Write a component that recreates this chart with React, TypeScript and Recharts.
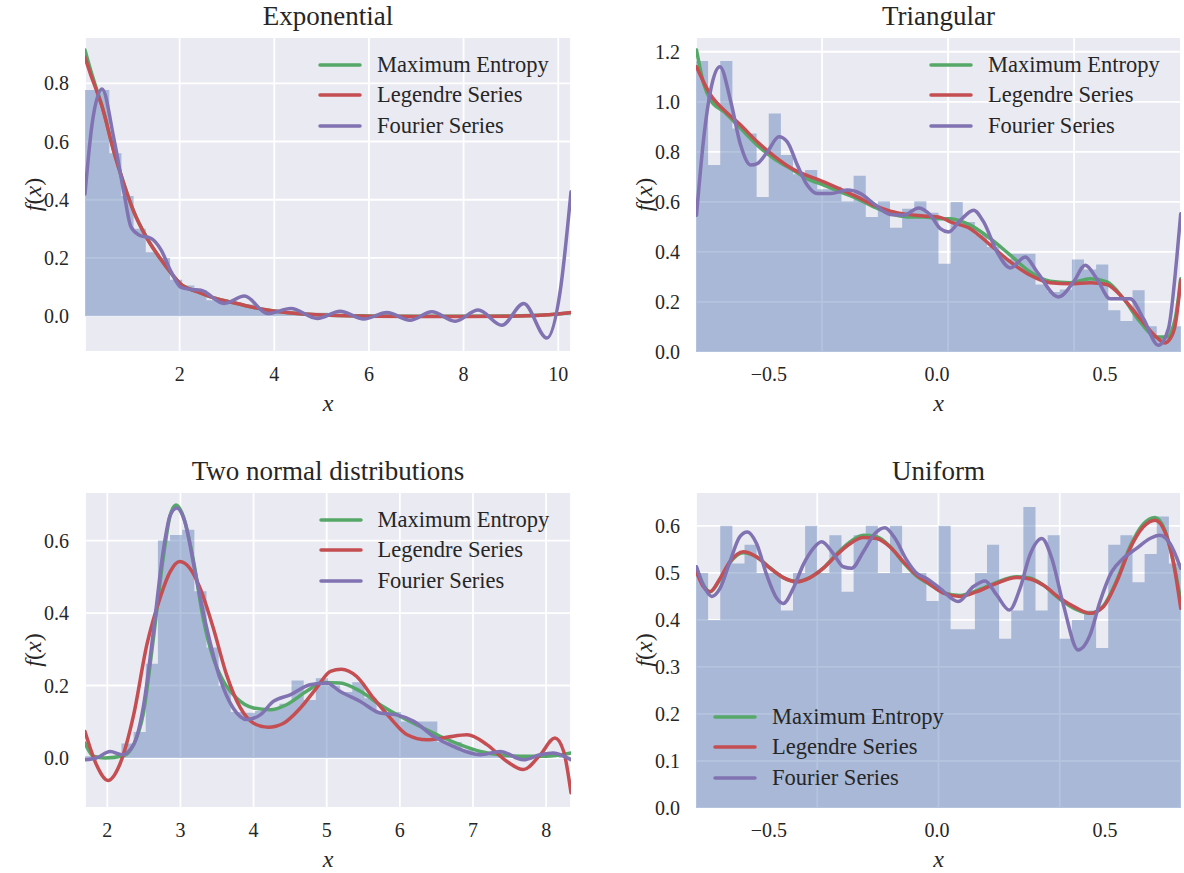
import {
  Area,
  CartesianGrid,
  ComposedChart,
  Legend,
  Line,
  XAxis,
  YAxis,
} from "recharts";

const FONT = '"Liberation Serif", "Times New Roman", serif';
const INK = "#262626";
const BLUE = "#4c72b0";
const GREEN = "#55a868";
const RED = "#c44e52";
const PURPLE = "#8172b2";

const Y_AXIS_W = 80;
const X_AXIS_H = 64;

const SERIES_ORDER = ["Maximum Entropy", "Legendre Series", "Fourier Series"];

// Exponential: 40 bins from 0
const expBinStart = 0;
const expBinWidth = 0.25675;
const expDensity = [
  0.777, 0.777, 0.56, 0.413, 0.3, 0.22, 0.2, 0.125, 0.105, 0.09,
  0.055, 0.055, 0.045, 0.04, 0.026, 0.022, 0.018, 0.015, 0.01, 0.012,
  0.006, 0.004, 0.006, 0.002, 0.004, 0.002, 0, 0.002, 0, 0.001,
  0, 0, 0.001, 0, 0, 0, 0, 0, 0, 0.002,
];
const expSmoothX = [0, 0.12, 0.24, 0.36, 0.61, 0.82, 1.03, 1.31, 1.59, 1.8, 2.01, 2.37, 2.72, 3.07, 3.42, 3.85, 4.48, 5.18, 6.0, 7.0, 8.0, 9.0, 9.7, 10.27];
const expMaxEnt = [0.914, 0.845, 0.782, 0.722, 0.566, 0.456, 0.36, 0.268, 0.198, 0.152, 0.112, 0.084, 0.063, 0.049, 0.035, 0.021, 0.009, 0.003, 0.001, 0, 0, 0.001, 0.004, 0.012];
const expLegendre = [0.889, 0.83, 0.777, 0.72, 0.565, 0.455, 0.359, 0.267, 0.198, 0.152, 0.112, 0.084, 0.063, 0.049, 0.035, 0.021, 0.009, 0.003, 0, -0.001, -0.001, 0, 0.004, 0.013];
const expFourierX = [0, 0.15, 0.36, 0.61, 0.82, 0.97, 1.15, 1.4, 1.61, 1.82, 2.03, 2.24, 2.45, 2.94, 3.37, 3.86, 4.35, 4.91, 5.39, 5.89, 6.38, 6.87, 7.33, 7.82, 8.31, 8.81, 9.27, 9.76, 10.04, 10.27];
const expFourier = [0.42, 0.66, 0.78, 0.61, 0.427, 0.307, 0.278, 0.267, 0.227, 0.152, 0.099, 0.092, 0.089, 0.044, 0.069, 0.009, 0.026, -0.008, 0.017, -0.01, 0.013, -0.014, 0.015, -0.017, 0.021, -0.031, 0.044, -0.075, 0.084, 0.427];

// Triangular: 40 bins from -1
const triBinStart = -1;
const triBinWidth = 0.0481;
const triDensity = [
  1.163, 0.747, 1.163, 0.893, 0.873, 0.62, 0.953, 0.787, 0.71, 0.727,
  0.65, 0.66, 0.603, 0.704, 0.54, 0.603, 0.497, 0.573, 0.603, 0.557,
  0.353, 0.6, 0.52, 0.47, 0.42, 0.373, 0.393, 0.393, 0.27, 0.24,
  0.25, 0.37, 0.33, 0.35, 0.167, 0.124, 0.247, 0.103, 0.06, 0.103,
];
const triMaxEntX = [-0.998, -0.968, -0.942, -0.889, -0.823, -0.757, -0.691, -0.625, -0.559, -0.493, -0.427, -0.361, -0.295, -0.229, -0.162, -0.097, -0.031, 0.009, 0.088, 0.168, 0.247, 0.326, 0.405, 0.484, 0.564, 0.63, 0.696, 0.762, 0.828, 0.868, 0.901, 0.923];
const triMaxEnt = [1.207, 1.067, 1.007, 0.96, 0.894, 0.827, 0.773, 0.733, 0.693, 0.667, 0.64, 0.613, 0.58, 0.553, 0.54, 0.54, 0.533, 0.533, 0.507, 0.453, 0.387, 0.32, 0.283, 0.277, 0.293, 0.28, 0.213, 0.12, 0.06, 0.06, 0.133, 0.293];
const triLegendreX = [-0.998, -0.942, -0.889, -0.823, -0.757, -0.691, -0.625, -0.493, -0.361, -0.295, -0.229, -0.162, -0.097, -0.031, 0.009, 0.088, 0.168, 0.247, 0.326, 0.405, 0.484, 0.564, 0.63, 0.696, 0.762, 0.828, 0.858, 0.882, 0.901, 0.923];
const triLegendre = [1.14, 1.027, 0.967, 0.907, 0.84, 0.784, 0.736, 0.68, 0.62, 0.587, 0.563, 0.55, 0.544, 0.538, 0.52, 0.493, 0.427, 0.36, 0.307, 0.277, 0.273, 0.277, 0.27, 0.213, 0.133, 0.058, 0.036, 0.055, 0.107, 0.287];
const triFourierX = [-0.998, -0.968, -0.905, -0.862, -0.823, -0.783, -0.757, -0.717, -0.671, -0.638, -0.598, -0.559, -0.519, -0.466, -0.4, -0.347, -0.295, -0.229, -0.176, -0.116, -0.07, -0.031, 0.002, 0.049, 0.101, 0.141, 0.194, 0.247, 0.306, 0.353, 0.438, 0.498, 0.544, 0.59, 0.643, 0.722, 0.775, 0.834, 0.874, 0.907, 0.923];
const triFourier = [0.547, 0.867, 1.14, 1.0, 0.827, 0.747, 0.753, 0.8, 0.86, 0.84, 0.747, 0.667, 0.633, 0.633, 0.647, 0.633, 0.593, 0.55, 0.547, 0.576, 0.547, 0.493, 0.48, 0.527, 0.567, 0.52, 0.4, 0.336, 0.38, 0.32, 0.22, 0.28, 0.347, 0.293, 0.213, 0.213, 0.133, 0.027, 0.093, 0.373, 0.553];

// Two normal distributions: 40 bins from 1.695
const tnBinStart = 1.695;
const tnBinWidth = 0.16612;
const tnDensity = [
  0.005, 0, 0.005, 0.04, 0.072, 0.26, 0.6, 0.615, 0.63, 0.46,
  0.305, 0.2, 0.127, 0.125, 0.13, 0.135, 0.15, 0.214, 0.16, 0.22,
  0.2, 0.182, 0.209, 0.165, 0.127, 0.127, 0.101, 0.101, 0.101, 0.044,
  0.044, 0.023, 0.015, 0.012, 0.01, 0.005, 0.005, 0.003, 0, 0.003,
];
const tnMaxEntX = [1.695, 1.81, 1.97, 2.22, 2.36, 2.49, 2.63, 2.77, 2.86, 2.94, 3.04, 3.18, 3.31, 3.45, 3.59, 3.77, 4.0, 4.23, 4.45, 4.73, 4.95, 5.18, 5.46, 5.73, 6.0, 6.28, 6.55, 6.82, 7.1, 7.37, 7.64, 8.0, 8.34];
const tnMaxEnt = [0.041, 0.005, 0, 0.006, 0.037, 0.12, 0.33, 0.56, 0.67, 0.698, 0.666, 0.542, 0.386, 0.275, 0.211, 0.165, 0.138, 0.133, 0.147, 0.185, 0.208, 0.207, 0.184, 0.147, 0.115, 0.087, 0.06, 0.037, 0.018, 0.009, 0.005, 0.005, 0.014];
const tnLegendreX = [1.695, 1.85, 2.01, 2.17, 2.36, 2.54, 2.72, 2.86, 2.99, 3.13, 3.27, 3.45, 3.63, 3.82, 4.0, 4.2, 4.41, 4.64, 4.86, 5.05, 5.2, 5.41, 5.64, 5.87, 6.1, 6.37, 6.64, 6.92, 7.19, 7.46, 7.69, 7.92, 8.12, 8.24, 8.34];
const tnLegendre = [0.073, -0.018, -0.062, -0.018, 0.119, 0.312, 0.441, 0.514, 0.542, 0.523, 0.468, 0.358, 0.23, 0.138, 0.096, 0.085, 0.096, 0.138, 0.193, 0.239, 0.245, 0.225, 0.165, 0.11, 0.064, 0.05, 0.057, 0.064, 0.037, -0.009, -0.032, 0.009, 0.055, 0.018, -0.096];
const tnFourierX = [1.695, 1.85, 2.04, 2.2, 2.36, 2.49, 2.63, 2.77, 2.86, 2.95, 3.06, 3.2, 3.36, 3.54, 3.72, 3.91, 4.09, 4.27, 4.5, 4.77, 5.0, 5.18, 5.46, 5.73, 5.96, 6.19, 6.46, 6.73, 7.1, 7.37, 7.69, 7.92, 8.1, 8.34];
const tnFourier = [-0.005, 0, 0.018, 0.009, 0.037, 0.138, 0.349, 0.579, 0.67, 0.69, 0.652, 0.514, 0.358, 0.22, 0.138, 0.106, 0.119, 0.156, 0.174, 0.202, 0.207, 0.184, 0.156, 0.124, 0.119, 0.101, 0.06, 0.032, 0.009, 0.018, -0.005, 0.009, 0.014, -0.005];

// Uniform: 40 bins from -1
const uniBinStart = -1;
const uniBinWidth = 0.05;
const uniDensity = [
  0.5, 0.4, 0.6, 0.52, 0.56, 0.5, 0.5, 0.42, 0.5, 0.6,
  0.5, 0.58, 0.46, 0.58, 0.6, 0.5, 0.6, 0.5, 0.5, 0.44,
  0.6, 0.38, 0.38, 0.5, 0.56, 0.36, 0.42, 0.64, 0.42, 0.58,
  0.36, 0.4, 0.42, 0.34, 0.56, 0.58, 0.48, 0.54, 0.62, 0.52,
];
const uniSmoothX = [-0.998, -0.97, -0.942, -0.901, -0.86, -0.805, -0.75, -0.695, -0.64, -0.585, -0.53, -0.475, -0.42, -0.365, -0.31, -0.255, -0.2, -0.145, -0.09, -0.035, 0.02, 0.089, 0.158, 0.24, 0.322, 0.377, 0.432, 0.501, 0.57, 0.625, 0.68, 0.735, 0.79, 0.845, 0.893, 0.934, 0.968, 0.999];
const uniMaxEnt = [0.51, 0.475, 0.46, 0.486, 0.522, 0.543, 0.534, 0.511, 0.49, 0.482, 0.49, 0.51, 0.54, 0.566, 0.58, 0.577, 0.556, 0.522, 0.493, 0.475, 0.458, 0.452, 0.462, 0.48, 0.492, 0.489, 0.474, 0.444, 0.422, 0.414, 0.43, 0.484, 0.556, 0.604, 0.618, 0.59, 0.525, 0.44];
const uniLegendre = [0.502, 0.471, 0.46, 0.488, 0.524, 0.545, 0.534, 0.51, 0.49, 0.481, 0.49, 0.51, 0.538, 0.562, 0.575, 0.573, 0.555, 0.524, 0.495, 0.476, 0.457, 0.45, 0.46, 0.478, 0.49, 0.487, 0.474, 0.446, 0.425, 0.414, 0.428, 0.481, 0.552, 0.598, 0.612, 0.587, 0.524, 0.425];
const uniFourierX = [-0.998, -0.97, -0.935, -0.901, -0.86, -0.819, -0.788, -0.75, -0.708, -0.667, -0.64, -0.599, -0.558, -0.516, -0.482, -0.434, -0.393, -0.358, -0.31, -0.262, -0.221, -0.179, -0.131, -0.09, -0.049, 0.006, 0.082, 0.144, 0.192, 0.24, 0.292, 0.336, 0.377, 0.426, 0.467, 0.515, 0.576, 0.625, 0.666, 0.714, 0.762, 0.817, 0.872, 0.913, 0.955, 0.999];
const uniFourier = [0.513, 0.474, 0.45, 0.467, 0.524, 0.577, 0.587, 0.562, 0.495, 0.446, 0.435, 0.467, 0.517, 0.552, 0.566, 0.541, 0.513, 0.51, 0.545, 0.584, 0.596, 0.573, 0.527, 0.499, 0.488, 0.467, 0.439, 0.471, 0.483, 0.453, 0.421, 0.467, 0.538, 0.573, 0.531, 0.432, 0.336, 0.368, 0.439, 0.502, 0.531, 0.552, 0.573, 0.58, 0.562, 0.51];

type Pt = { x: number; y: number };

const pts = (xs: number[], ys: number[]): Pt[] => xs.map((x, i) => ({ x, y: ys[i] }));

// step outline of a density histogram: one point per bin edge
const histogram = (start: number, width: number, heights: number[]): Pt[] => [
  ...heights.map((h, i) => ({ x: start + i * width, y: h })),
  { x: start + heights.length * width, y: heights[heights.length - 1] },
];

const signed = (v: number) => (v < 0 ? "\u2212" : "") + Math.abs(v).toFixed(1);

type PanelSpec = {
  title: string;
  left: number;
  top: number;
  plotW: number;
  plotH: number;
  xDomain: [number, number];
  xTicks: number[];
  labelDomain?: [number, number];
  labelTicks?: number[];
  yDomain: [number, number];
  yTicks: number[];
  hist: Pt[];
  maxEnt: Pt[];
  legendre: Pt[];
  fourier: Pt[];
  legendAt: { left: number; top: number };
};

const panels: PanelSpec[] = [
  {
    title: "Exponential",
    left: 5,
    top: 37,
    plotW: 486,
    plotH: 315,
    xDomain: [0, 10.27],
    xTicks: [2, 4, 6, 8, 10],
    yDomain: [-0.123, 0.959],
    yTicks: [0, 0.2, 0.4, 0.6, 0.8],
    hist: histogram(expBinStart, expBinWidth, expDensity),
    maxEnt: pts(expSmoothX, expMaxEnt),
    legendre: pts(expSmoothX, expLegendre),
    fourier: pts(expFourierX, expFourier),
    legendAt: { left: 313, top: 12.5 },
  },
  {
    title: "Triangular",
    left: 616,
    top: 37,
    plotW: 485,
    plotH: 315,
    xDomain: [-1, 0.924],
    xTicks: [-0.5, 0, 0.5],
    labelDomain: [-0.717, 0.726],
    labelTicks: [-0.5, 0, 0.5],
    yDomain: [0, 1.259],
    yTicks: [0, 0.2, 0.4, 0.6, 0.8, 1.0, 1.2],
    hist: histogram(triBinStart, triBinWidth, triDensity),
    maxEnt: pts(triMaxEntX, triMaxEnt),
    legendre: pts(triLegendreX, triLegendre),
    fourier: pts(triFourierX, triFourier),
    legendAt: { left: 313, top: 12.5 },
  },
  {
    title: "Two normal distributions",
    left: 5,
    top: 492,
    plotW: 486,
    plotH: 316,
    xDomain: [1.695, 8.34],
    xTicks: [2, 3, 4, 5, 6, 7, 8],
    yDomain: [-0.138, 0.734],
    yTicks: [0, 0.2, 0.4, 0.6],
    hist: histogram(tnBinStart, tnBinWidth, tnDensity),
    maxEnt: pts(tnMaxEntX, tnMaxEnt),
    legendre: pts(tnLegendreX, tnLegendre),
    fourier: pts(tnFourierX, tnFourier),
    legendAt: { left: 313.5, top: 12.5 },
  },
  {
    title: "Uniform",
    left: 616,
    top: 492,
    plotW: 485,
    plotH: 316,
    xDomain: [-1, 1],
    xTicks: [-0.5, 0, 0.5],
    labelDomain: [-0.717, 0.726],
    labelTicks: [-0.5, 0, 0.5],
    yDomain: [0, 0.672],
    yTicks: [0, 0.1, 0.2, 0.3, 0.4, 0.5, 0.6],
    hist: histogram(uniBinStart, uniBinWidth, uniDensity),
    maxEnt: pts(uniSmoothX, uniMaxEnt),
    legendre: pts(uniSmoothX, uniLegendre),
    fourier: pts(uniFourierX, uniFourier),
    legendAt: { left: 97, top: 209.5 },
  },
];

const tickStyle = { fill: INK, fontSize: 20, fontFamily: FONT };

function XLabel({ viewBox }: any) {
  const { x, y, width } = viewBox;
  return (
    <text
      x={x + width / 2}
      y={y + 51}
      textAnchor="middle"
      dominantBaseline="central"
      fontFamily={FONT}
      fontSize={24}
      fontStyle="italic"
      fill={INK}
    >
      x
    </text>
  );
}

function YLabel({ viewBox }: any) {
  const cx = viewBox.x + viewBox.width - 52;
  const cy = viewBox.y + viewBox.height / 2;
  return (
    <text
      transform={`rotate(-90 ${cx} ${cy})`}
      x={cx}
      y={cy}
      textAnchor="middle"
      dominantBaseline="central"
      fontFamily={FONT}
      fontSize={24}
      fill={INK}
    >
      <tspan fontStyle="italic">f</tspan>(<tspan fontStyle="italic">x</tspan>)
    </text>
  );
}

function LegendBox({ payload }: any) {
  const rows = (payload || [])
    .filter((entry: any) => SERIES_ORDER.includes(entry.value))
    .sort((a: any, b: any) => SERIES_ORDER.indexOf(a.value) - SERIES_ORDER.indexOf(b.value));
  return (
    <div style={{ fontFamily: FONT, fontSize: 22.5, color: INK }}>
      {rows.map((entry: any) => (
        <div
          key={entry.value}
          style={{ display: "flex", alignItems: "center", height: 30.5, whiteSpace: "nowrap" }}
        >
          <svg width={44} height={6} style={{ display: "block" }}>
            <line x1={2} y1={3} x2={42} y2={3} stroke={entry.color} strokeWidth={3.5} strokeLinecap="round" />
          </svg>
          <span style={{ marginLeft: 15 }}>{entry.value}</span>
        </div>
      ))}
    </div>
  );
}

function Panel({ p }: { p: PanelSpec }) {
  const width = Y_AXIS_W + p.plotW + 3;
  const height = p.plotH + X_AXIS_H;
  const split = !!p.labelDomain;
  const lineProps = {
    xAxisId: "data",
    dataKey: "y",
    type: "monotone" as const,
    strokeWidth: 3.5,
    strokeLinecap: "round" as const,
    dot: false,
    activeDot: false,
    isAnimationActive: false,
  };

  return (
    <div style={{ position: "absolute", left: p.left, top: p.top, width, height }}>
      <div
        style={{
          position: "absolute",
          left: Y_AXIS_W,
          width: p.plotW,
          top: -35,
          height: 28,
          lineHeight: "28px",
          textAlign: "center",
          fontFamily: FONT,
          fontSize: 27,
          color: INK,
          whiteSpace: "nowrap",
        }}
      >
        {p.title}
      </div>
      <ComposedChart width={width} height={height} margin={{ top: 0, right: 3, bottom: 0, left: 0 }}>
        <CartesianGrid xAxisId="data" fill="#eaeaf2" stroke="#ffffff" strokeWidth={1.8} />
        {split && (
          <XAxis
            xAxisId="label"
            type="number"
            dataKey="x"
            domain={p.labelDomain}
            ticks={p.labelTicks}
            allowDataOverflow
            height={X_AXIS_H}
            tickFormatter={signed}
            tick={tickStyle}
            tickSize={0}
            tickMargin={15}
            axisLine={false}
            tickLine={false}
            label={{ content: XLabel }}
          />
        )}
        <XAxis
          xAxisId="data"
          type="number"
          dataKey="x"
          orientation={split ? "top" : "bottom"}
          domain={p.xDomain}
          ticks={p.xTicks}
          allowDataOverflow
          hide={split}
          height={split ? 0 : X_AXIS_H}
          tickFormatter={(v: number) => String(v)}
          tick={tickStyle}
          tickSize={0}
          tickMargin={15}
          axisLine={false}
          tickLine={false}
          label={split ? undefined : { content: XLabel }}
        />
        <YAxis
          type="number"
          domain={p.yDomain}
          ticks={p.yTicks}
          allowDataOverflow
          width={Y_AXIS_W}
          tickFormatter={(v: number) => v.toFixed(1)}
          tick={tickStyle}
          tickSize={0}
          tickMargin={16}
          axisLine={false}
          tickLine={false}
          label={{ content: YLabel }}
        />
        <Area
          data={p.hist}
          xAxisId="data"
          dataKey="y"
          type="stepAfter"
          baseValue={0}
          fill={BLUE}
          fillOpacity={0.42}
          stroke="none"
          legendType="none"
          isAnimationActive={false}
        />
        <Line {...lineProps} data={p.maxEnt} name="Maximum Entropy" stroke={GREEN} />
        <Line {...lineProps} data={p.legendre} name="Legendre Series" stroke={RED} />
        <Line {...lineProps} data={p.fourier} name="Fourier Series" stroke={PURPLE} />
        <Legend
          layout="vertical"
          align="center"
          verticalAlign="middle"
          wrapperStyle={{ left: p.legendAt.left, top: p.legendAt.top, width: "auto", height: "auto" }}
          content={LegendBox}
        />
      </ComposedChart>
    </div>
  );
}

export default function App() {
  return (
    <div
      style={{
        position: "absolute",
        left: 0,
        top: 0,
        width: 1184,
        height: 873,
        overflow: "hidden",
        background: "#ffffff",
      }}
    >
      {panels.map((p) => (
        <Panel key={p.title} p={p} />
      ))}
    </div>
  );
}
